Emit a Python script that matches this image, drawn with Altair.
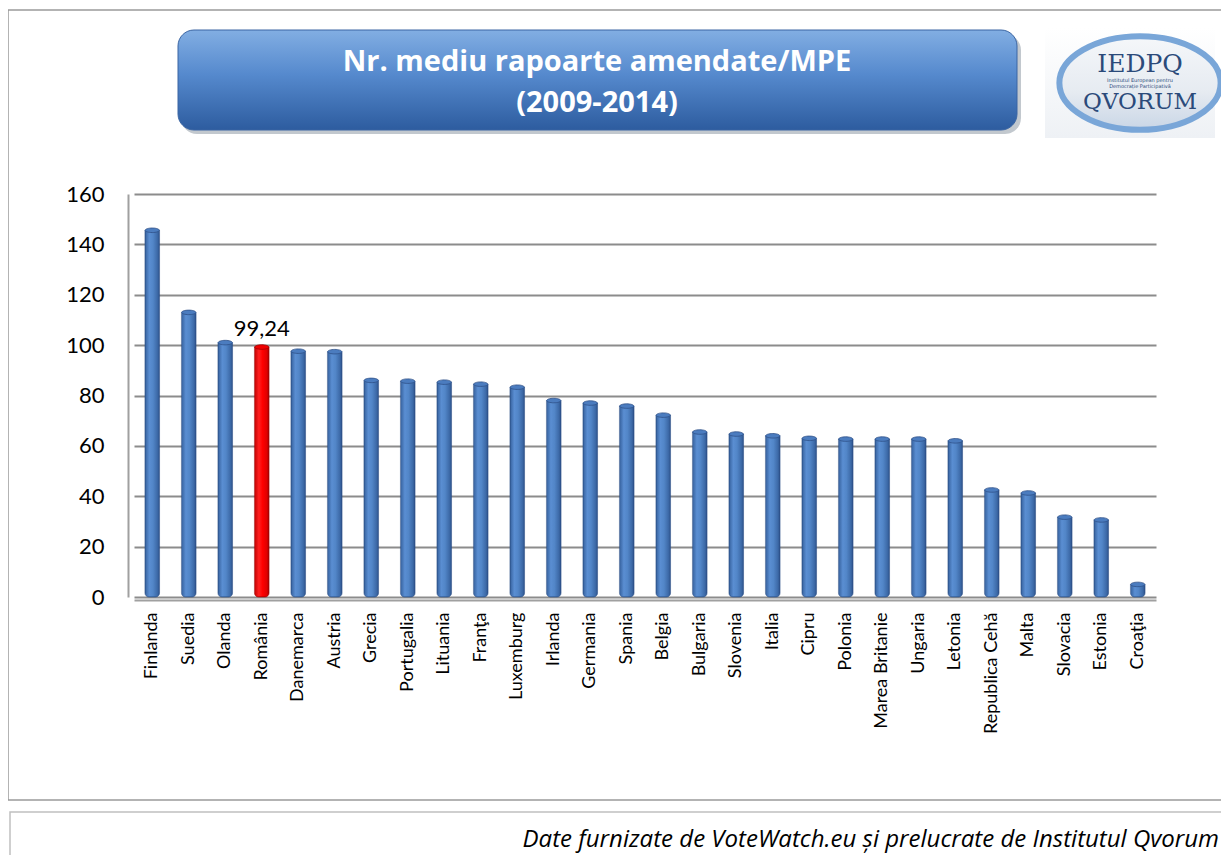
import altair as alt
import pandas as pd

countries = ["Finlanda", "Suedia", "Olanda", "România", "Danemarca", "Austria", "Grecia",
             "Portugalia", "Lituania", "Franţa", "Luxemburg", "Irlanda", "Germania", "Spania",
             "Belgia", "Bulgaria", "Slovenia", "Italia", "Cipru", "Polonia", "Marea Britanie",
             "Ungaria", "Letonia", "Republica Cehă", "Malta", "Slovacia", "Estonia", "Croaţia"]
values = [145.6, 113.0, 101.0, 99.24, 97.6, 97.4, 86.0, 85.7, 85.3, 84.5, 83.3, 78.0, 77.0,
          75.8, 72.2, 65.5, 64.7, 64.0, 63.0, 62.7, 62.7, 62.7, 62.0, 42.5, 41.3, 31.7, 30.6, 5.0]
highlight = "România"
highlight_label = "99,24"
y_ticks = [0, 20, 40, 60, 80, 100, 120, 140, 160]
title_lines = ["Nr. mediu rapoarte amendate/MPE", "(2009-2014)"]
logo_lines = ["IEDPQ", "Institutul European pentru", "Democrație Participativă", "QVORUM"]
footer = "Date furnizate de VoteWatch.eu și prelucrate de Institutul Qvorum"

df = pd.DataFrame({"tara": countries, "valoare": values})
df["hl"] = df["tara"] == highlight
df["eticheta"] = [highlight_label if c == highlight else "" for c in countries]

W, H = 1022, 403
FONT = "Lato"

def hgrad(stops):
    return {"gradient": "linear", "x1": 0, "y1": 0, "x2": 1, "y2": 0,
            "stops": [{"offset": o, "color": c} for o, c in stops]}

def vgrad(stops):
    return {"gradient": "linear", "x1": 0, "y1": 0, "x2": 0, "y2": 1,
            "stops": [{"offset": o, "color": c} for o, c in stops]}

blue = hgrad([(0, "#35609c"), (0.3, "#5a8ed2"), (0.55, "#5286c8"), (0.85, "#3d6aa8"), (1, "#2c5189")])
red = hgrad([(0, "#c00000"), (0.3, "#ff2020"), (0.55, "#ff0000"), (0.85, "#e00000"), (1, "#a00000")])

xenc = alt.X("tara:N", sort=countries,
             scale=alt.Scale(paddingInner=0.6, paddingOuter=0.3),
             axis=alt.Axis(title=None, labelAngle=270, labelAlign="right", labelBaseline="middle",
                           labelFont=FONT, labelFontSize=18, labelColor="black", labelPadding=12,
                           ticks=False, domainColor="#a0a0a0", domainWidth=2, offset=3, grid=False))
yenc = alt.Y("valoare:Q", scale=alt.Scale(domain=[0, 160]),
             axis=alt.Axis(title=None, values=y_ticks, labelFont=FONT, labelFontSize=22,
                           labelColor="black", labelPadding=24, ticks=False, offset=6,
                           domainColor="#a0a0a0", domainWidth=2, grid=True,
                           gridColor="#8c8c8c", gridWidth=2))

base = alt.Chart(df)
bars_blue = base.transform_filter("!datum.hl").mark_bar(
    fill=blue, stroke="#2e5188", strokeWidth=0.6, cornerRadiusBottomLeft=4, cornerRadiusBottomRight=4
).encode(x=xenc, y=yenc)
bars_red = base.transform_filter("datum.hl").mark_bar(
    fill=red, stroke="#a00000", strokeWidth=0.6, cornerRadiusBottomLeft=4, cornerRadiusBottomRight=4
).encode(x=xenc, y=yenc)
cap_shape = "M-1,0 A1,0.32 0 1,1 1,0 A1,0.32 0 1,1 -1,0 Z"
caps_blue = base.transform_filter("!datum.hl").mark_point(
    shape=cap_shape, size=200, filled=True, fill="#4b7cbf", stroke="#2e5188", strokeWidth=0.8, opacity=1
).encode(x=xenc, y=yenc)
caps_red = base.transform_filter("datum.hl").mark_point(
    shape=cap_shape, size=200, filled=True, fill="#f00000", stroke="#a00000", strokeWidth=0.8, opacity=1
).encode(x=xenc, y=yenc)
label = base.transform_filter("datum.hl").mark_text(
    font=FONT, fontSize=22, color="black", dy=-18
).encode(x=xenc, y=yenc, text="eticheta:N")

one = pd.DataFrame({"k": [0]})

def deco_text(txt, x, y, **kw):
    return alt.Chart(one).mark_text(**kw).encode(x=alt.value(x), y=alt.value(y), text=alt.value(txt))

# outer frame
frame = alt.Chart(one).mark_rect(fill=None, stroke="#9a9a9a", strokeWidth=1.5).encode(
    x=alt.value(-126), x2=alt.value(1110), y=alt.value(-184), y2=alt.value(606))
frame2 = alt.Chart(one).mark_rect(fill=None, stroke="#c0c0c0", strokeWidth=1.5).encode(
    x=alt.value(-124), x2=alt.value(1110), y=alt.value(618), y2=alt.value(700))

# title box
shadow = alt.Chart(one).mark_rect(fill="#9aa3ad", opacity=0.6, cornerRadius=16).encode(
    x=alt.value(47), x2=alt.value(887), y=alt.value(-160), y2=alt.value(-60))
tbox = alt.Chart(one).mark_rect(
    fill=vgrad([(0, "#82aee3"), (0.45, "#5589cd"), (1, "#2d5c9f")]),
    stroke="#3a65a3", strokeWidth=1, cornerRadius=16).encode(
    x=alt.value(44), x2=alt.value(883), y=alt.value(-164), y2=alt.value(-64))
t1 = deco_text(title_lines[0], 463, -132, font="Open Sans", fontWeight="bold", fontSize=29, color="white")
t2 = deco_text(title_lines[1], 463, -91, font="Open Sans", fontWeight="bold", fontSize=29, color="white")

# logo
logo_bg = alt.Chart(one).mark_rect(fill=vgrad([(0, "#ffffff"), (1, "#eef1f5")])).encode(
    x=alt.value(911), x2=alt.value(1081), y=alt.value(-166), y2=alt.value(-56))
ellipse = "M-1,0 A1,0.58 0 1,1 1,0 A1,0.58 0 1,1 -1,0 Z"
logo_ell = alt.Chart(one).mark_point(
    shape=ellipse, size=26000, filled=True,
    fill=vgrad([(0, "#f5f7fa"), (0.6, "#e6ebf1"), (1, "#c9d6e6")]),
    stroke="#79a6d8", strokeWidth=6, opacity=1).encode(x=alt.value(1006), y=alt.value(-111))
l1 = deco_text(logo_lines[0], 1006, -130, font="DejaVu Serif", fontSize=25, color="#2b4a7a")
l2 = deco_text(logo_lines[1], 1006, -114, font="DejaVu Sans", fontSize=5, color="#2b4a7a")
l3 = deco_text(logo_lines[2], 1006, -108, font="DejaVu Sans", fontSize=5, color="#2b4a7a")
l4 = deco_text(logo_lines[3], 1006, -92, font="DejaVu Serif", fontSize=23, color="#2b4a7a")

# footer
foot = deco_text(footer, 1085, 646, font="Open Sans", fontStyle="italic", fontSize=24,
                 color="black", align="right")

chart = alt.layer(frame, frame2, shadow, tbox, t1, t2, logo_bg, logo_ell, l1, l2, l3, l4, foot,
                  bars_blue, bars_red, caps_blue, caps_red, label).properties(
    width=W, height=H,
    autosize=alt.AutoSizeParams(type="none"),
    padding={"left": 126, "top": 186, "right": 65, "bottom": 258},
).configure_view(stroke=None)

chart.save("out.html", embed_options={"renderer": "svg", "actions": False})
